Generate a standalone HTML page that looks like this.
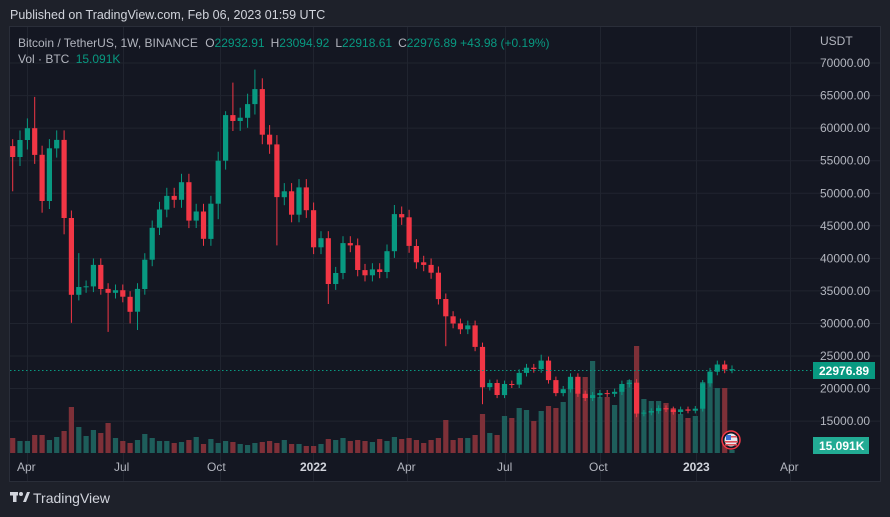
<!DOCTYPE html>
<html><head><meta charset="utf-8">
<style>
html,body{margin:0;padding:0;background:#1e212a;width:890px;height:517px;overflow:hidden;font-family:"Liberation Sans",sans-serif;}
svg{display:block}
</style></head><body>
<svg id="c" width="890" height="517" xmlns="http://www.w3.org/2000/svg" font-family="Liberation Sans, sans-serif">
<rect x="0" y="0" width="890" height="517" fill="#1e212a"/>
<text x="10" y="19" font-size="12.5" fill="#d1d4dc">Published on TradingView.com, Feb 06, 2023 01:59 UTC</text>
<rect x="9.5" y="26.5" width="871" height="455" fill="#141722" stroke="#2a2e39"/>
<g id="grid"></g>
<g id="vol"></g>
<g id="cand"></g>
<line x1="10" y1="370.5" x2="812" y2="370.5" stroke="#089981" stroke-dasharray="1.5,2.5" stroke-width="1"/>
<g font-size="12" fill="#b2b5be">
<text x="18" y="47">Bitcoin / TetherUS, 1W, BINANCE <tspan dx="4">O</tspan><tspan fill="#089981">22932.91</tspan><tspan dx="6">H</tspan><tspan fill="#089981">23094.92</tspan><tspan dx="6">L</tspan><tspan fill="#089981">22918.61</tspan><tspan dx="6">C</tspan><tspan fill="#089981">22976.89 +43.98 (+0.19%)</tspan></text>
<text x="18" y="63">Vol · BTC <tspan dx="3" fill="#089981">15.091K</tspan></text>
<text x="820" y="45">USDT</text>
</g>
<g id="axis" font-size="12" fill="#b2b5be"></g>
<rect x="813" y="362" width="62" height="17" fill="#089981"/>
<text x="819" y="375" font-size="12" font-weight="bold" fill="#ffffff">22976.89</text>
<rect x="813" y="437" width="56" height="17" fill="#22ab94"/>
<text x="819" y="450" font-size="12" font-weight="bold" fill="#ffffff">15.091K</text>
<g>
<circle cx="731" cy="440" r="9" fill="#141722" stroke="#f23645" stroke-width="1.5"/>
<circle cx="731" cy="440" r="6.5" fill="#e8e8ee"/>
<rect x="725" y="441" width="13" height="1.6" fill="#e0505a"/>
<rect x="725" y="444" width="12" height="1.6" fill="#e0505a"/>
<rect x="726" y="435" width="5" height="5" fill="#3b6fd6"/>
<rect x="731" y="436" width="6" height="1.5" fill="#e0505a"/>
</g>
<g font-size="12" fill="#b2b5be">
<text x="17" y="471">Apr</text><text x="114" y="471">Jul</text><text x="207" y="471">Oct</text>
<text x="300" y="471" font-weight="bold" fill="#d1d4dc">2022</text>
<text x="397" y="471">Apr</text><text x="497" y="471">Jul</text><text x="589" y="471">Oct</text>
<text x="683" y="471" font-weight="bold" fill="#d1d4dc">2023</text><text x="780" y="471">Apr</text>
</g>
<g fill="#d1d4dc">
<rect x="10" y="492" width="8" height="3.5"/><rect x="13" y="492" width="3.5" height="10"/>
<circle cx="21" cy="494" r="2"/><polygon points="23,502 27,492 30,492 26,502"/>
<text x="33" y="503" font-size="14">TradingView</text>
</g>
</svg>
<script>
var NS="http://www.w3.org/2000/svg";
function el(p,t,a){var e=document.createElementNS(NS,t);for(var k in a)e.setAttribute(k,a[k]);p.appendChild(e);return e;}
function Y(p){return 356-(p-25000)*0.00651;}
var grid=document.getElementById('grid'),axis=document.getElementById('axis');
for(var p=15000;p<=70000;p+=5000){var y=Y(p);el(grid,'line',{x1:10,x2:880,y1:y,y2:y,stroke:'#20242f','stroke-width':1});
 var t=el(axis,'text',{x:820,y:y+4});t.textContent=p+'.00';}
[27,123,220,313,407,505,600,696,790].forEach(function(x){el(grid,'line',{x1:x+.5,x2:x+.5,y1:27,y2:481,stroke:'#20242f','stroke-width':1});});
var C=[55570,58180,60000,55900,48800,56900,58200,46200,34400,35600,
35700,39000,35300,34700,35100,34100,31800,35300,39800,44700,
47500,49600,49000,51700,45800,47200,43000,48400,55000,62000,
61100,61600,63700,66000,59000,57500,49400,50300,46700,50900,
47400,41700,43100,36060,37750,42350,42000,38200,37400,38300,
37900,41100,46800,46300,41900,39400,39000,37800,33750,31100,
30000,29100,29700,26400,20200,20850,19000,20700,20600,22400,
23200,23000,24300,21300,19300,19900,21800,19200,18550,19000,
19300,19200,19500,20700,20900,16150,16300,16550,17000,16800,
16400,16800,16600,16900,20800,22600,23700,22930,22977];
var H={1:58300,4:64800,10:40800,13:40000,30:62600,31:67000,34:69000,53:48200,86:21450,73:25200};
var L={1:50300,5:47000,8:43700,9:30100,14:28700,17:30000,18:29000,29:46000,37:42000,44:33000,60:26500,65:17600,86:15600};
var V=[15,12,12,18,18,13,16,22,46,26,17,23,20,30,15,12,10,13,19,15,12,12,10,11,13,16,9,14,10,12,11,9,8,10,11,12,10,13,9,9,7,7,9,
14,13,15,12,13,12,11,14,12,16,14,15,13,
10,13,15,33,13,15,15,18,39,20,18,37,35,45,43,32,42,47,45,51,71,74,76,92,56,56,48,67,73,107,54,52,52,50,45,39,35,37,71,70,65,65,3];
var cg=document.getElementById('cand'),vg=document.getElementById('vol');
var o=57250;
for(var i=0;i<C.length;i++){var n=i+1,c=C[i];var up=c>=o;
 var x=12.7+i*7.34;var col=up?'#089981':'#f23645';
 var hi=H[n]||Math.max(o,c)*1.025,lo=L[n]||Math.min(o,c)*0.975;
 var v=V[i]||10;
 el(vg,'rect',{x:(x-2.6).toFixed(1),y:453-v,width:5.2,height:v,fill:up?'#1e5e5b':'#7e3038'});
 el(cg,'rect',{x:(x-0.5).toFixed(1),y:Y(hi).toFixed(1),width:1,height:(Y(lo)-Y(hi)).toFixed(1),fill:col});
 var yt=Y(Math.max(o,c)),yb=Y(Math.min(o,c));
 el(cg,'rect',{x:(x-2.6).toFixed(1),y:yt.toFixed(1),width:5.2,height:Math.max(1,yb-yt).toFixed(1),fill:col});
 o=c;}
</script>
</body></html>
